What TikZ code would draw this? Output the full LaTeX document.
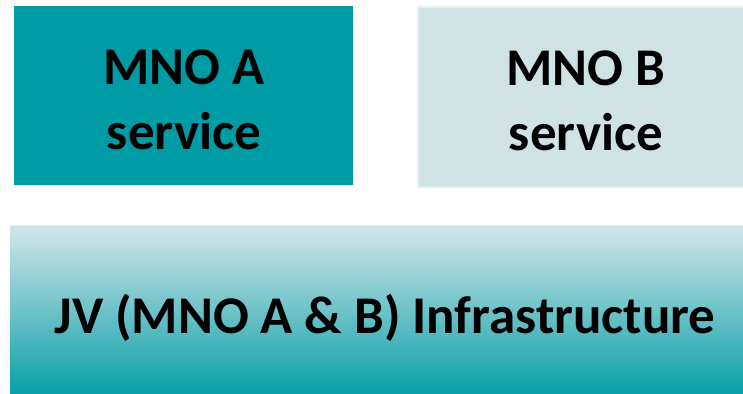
\documentclass[tikz,border=0pt]{standalone}
\usepackage{fontspec}
\setmainfont{Carlito}
\definecolor{tealA}{HTML}{009CA6}
\definecolor{paleB}{HTML}{CFE2E4}
\definecolor{edgeB}{HTML}{E4F1F2}
\definecolor{gradTop}{HTML}{D3E6E9}
\definecolor{gradBot}{HTML}{029DA6}
\tikzset{
  lbl/.style={font=\fontsize{53}{65}\selectfont\bfseries, text=black, align=center, inner sep=0pt}
}
\begin{document}
\begin{tikzpicture}[x=1pt,y=-1pt]
\useasboundingbox (0,0) rectangle (743,393);
\clip (0,0) rectangle (743,393);
% boxes
\fill[tealA] (14,6) rectangle (353,185);
\filldraw[fill=paleB, draw=edgeB, line width=1.5pt] (418,7) rectangle (760,187);
\shade[top color=gradTop, bottom color=gradBot] (10,225) rectangle (762,400);
\draw[edgeB, line width=1pt] (10,225) -- (762,225);
% labels
\node[lbl] (a) at (184,100) {MNO A\\service};
\node[lbl] (b) at (586,101) {MNO B\\service};
\node[lbl] (jv) at (385,318) {JV (MNO A \& B) Infrastructure};
\end{tikzpicture}
\end{document}
